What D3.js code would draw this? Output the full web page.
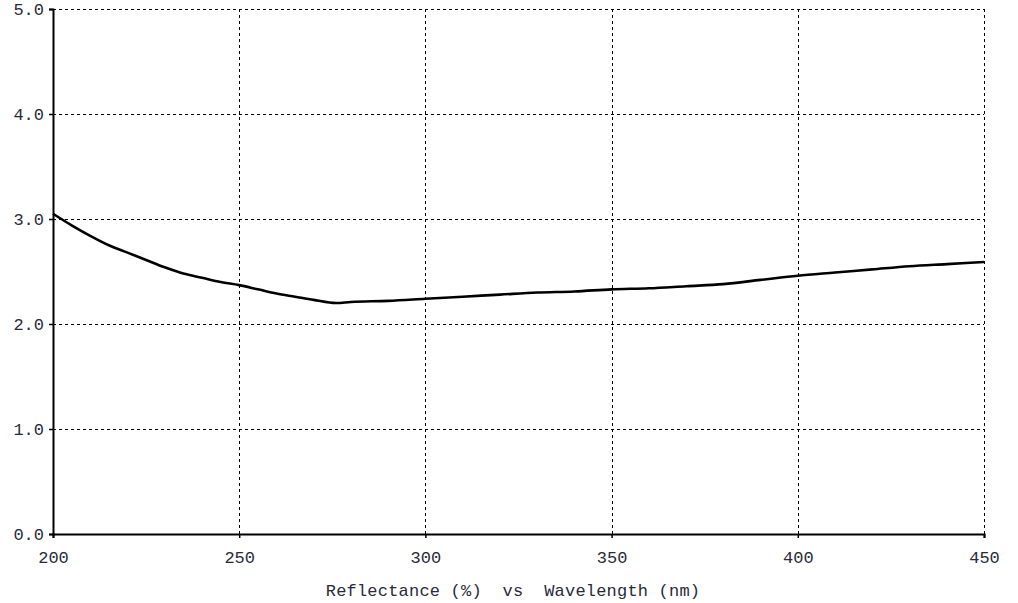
<!DOCTYPE html>
<html><head><meta charset="utf-8">
<script src="https://cdn.jsdelivr.net/npm/d3@7"></script>
<style>html,body{margin:0;padding:0;background:#fff;}svg{display:block;}</style>
</head><body>
<script>
const wavelength = [200,205,210,215,220,225,230,235,240,245,250,255,260,265,270,276,280,290,300,310,320,330,340,350,360,370,380,390,400,410,420,430,440,450];
const reflectance = [3.05,2.94,2.84,2.75,2.68,2.61,2.54,2.48,2.44,2.40,2.37,2.33,2.29,2.26,2.23,2.20,2.21,2.22,2.24,2.26,2.28,2.30,2.31,2.33,2.34,2.36,2.38,2.42,2.46,2.49,2.52,2.55,2.57,2.59];
const xTicks = [200,250,300,350,400,450];
const yTicks = [0,1,2,3,4,5];
const xTitle = "Reflectance (%)  vs  Wavelength (nm)";

const W = 1018, H = 603;
const svg = d3.select("body").append("svg").attr("width", W).attr("height", H);
const x = d3.scaleLinear().domain([200,450]).range([53,984]);
const y = d3.scaleLinear().domain([0,5]).range([534,9]);
const font = "'Liberation Mono', 'Courier New', monospace";

// grid
const g = svg.append("g").attr("stroke","#000").attr("stroke-width",1).attr("stroke-dasharray","3,3").attr("shape-rendering","crispEdges");
g.selectAll("line.v").data(xTicks.slice(1)).enter().append("line")
  .attr("x1", d=>Math.round(x(d))+0.5).attr("x2", d=>Math.round(x(d))+0.5).attr("y1", y(5)).attr("y2", y(0));
g.selectAll("line.h").data(yTicks.slice(1)).enter().append("line")
  .attr("y1", d=>Math.round(y(d))+0.5).attr("y2", d=>Math.round(y(d))+0.5).attr("x1", x(200)).attr("x2", x(450));

// axes
const xAxis = d3.axisBottom(x).tickValues(xTicks).tickSize(4).tickFormat(d3.format("d"));
const yAxis = d3.axisLeft(y).tickValues(yTicks).tickSize(4).tickFormat(d3.format(".1f"));
const gx = svg.append("g").attr("transform",`translate(0,${y(0)})`).call(xAxis);
const gy = svg.append("g").attr("transform",`translate(${x(200)},0)`).call(yAxis);
[gx,gy].forEach(a=>{
  a.select(".domain").attr("stroke","#000").attr("stroke-width",2);
  a.selectAll(".tick line").attr("stroke","#000").attr("stroke-width",1.5);
  a.selectAll(".tick text").attr("fill","#2a2a3a").attr("font-family",font).attr("font-size",17);
});
gx.selectAll(".tick text").attr("dy","1.3em");
gy.selectAll(".tick text").attr("x",-9);

// curve
svg.append("path").datum(wavelength.map((w,i)=>[w,reflectance[i]]))
  .attr("fill","none").attr("stroke","#000").attr("stroke-width",2.6)
  .attr("d", d3.line().x(d=>x(d[0])).y(d=>y(d[1])).curve(d3.curveMonotoneX));

svg.append("text").attr("x",513).attr("y",596).attr("text-anchor","middle")
  .attr("font-family",font).attr("font-size",17).attr("letter-spacing",0.2).attr("fill","#2a2a3a").attr("xml:space","preserve").style("white-space","pre")
  .text(xTitle);
</script>
</body></html>
